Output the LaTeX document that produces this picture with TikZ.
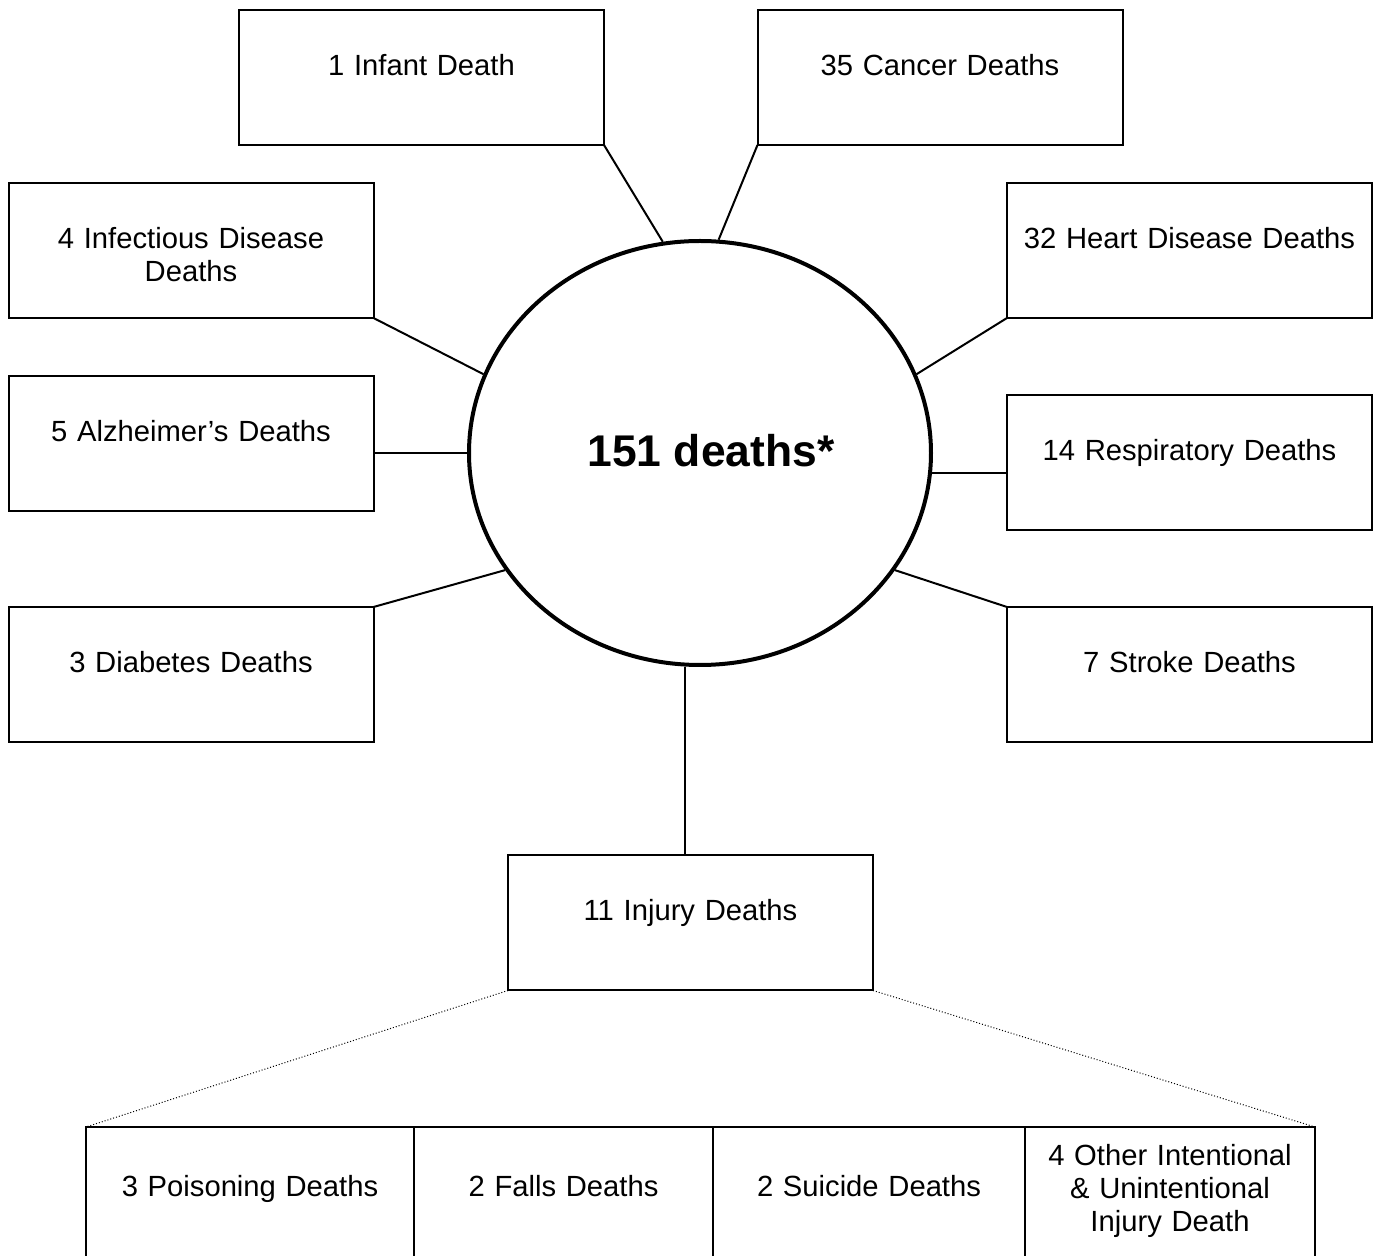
\documentclass[tikz,border=0pt]{standalone}
\usepackage{fontspec}
\setmainfont{Liberation Sans}
\usetikzlibrary{shapes.geometric,positioning}
\begin{document}
\begin{tikzpicture}[x=0.5pt,y=-0.5pt,
  cause/.style={draw, line width=1pt, outer sep=0pt, minimum width=182.5pt, text width=172pt,
    inner xsep=0pt, inner ysep=22.25pt, align=center, text height=10.5pt, text depth=12.5pt,
    font=\fontsize{14.6pt}{16.5pt}\selectfont},
  subcause/.style={cause, text width=140pt, inner ysep=24.25pt, text depth=80pt, anchor=north west},
  link/.style={line width=1pt},
  split/.style={densely dotted, line width=0.5pt}]
\useasboundingbox (0,0) rectangle (1378,1256);
\clip (0,0) rectangle (1378,1256);

% --- TOTAL ---
  \node[draw, ellipse, line width=2pt, minimum width=231pt, minimum height=212pt, inner sep=0pt] (total) at (700,453) {};
  \node[font=\fontsize{22.2pt}{26pt}\selectfont\bfseries] (totaltext) at (711,451) {151 deaths*};

% --- CAUSES ---
  \node[cause] (infant) at (421.5,77.5) {1 Infant Death};
  \node[cause] (cancer) at (940,77.5) {35 Cancer Deaths};
  \node[cause] (infect) at (191,250.5) {4 Infectious Disease\\Deaths};
  \node[cause] (heart) at (1189.5,250.5) {32 Heart Disease Deaths};
  \node[cause] (alzh) at (191,443.5) {5 Alzheimer’s Deaths};
  \node[cause] (resp) at (1189.5,462.5) {14 Respiratory Deaths};
  \node[cause] (diab) at (191,674.5) {3 Diabetes Deaths};
  \node[cause] (stroke) at (1189.5,674.5) {7 Stroke Deaths};
  \node[cause] (injury) at (690.5,923) {11 Injury Deaths};

  % links
\foreach \src/\corner/\ang in {infant/south east/100, cancer/south west/85, infect/south east/160,
    heart/south west/20, diab/north east/211, stroke/north west/329} {
    \draw[link] (\src.\corner) -- (total.\ang);
  }
  \draw[link] (total.west) -- (total.west -| alzh.east);
  \draw[link] (total.355) -- (total.355 -| resp.west);
  \draw[link] (total.266.5) -- (total.266.5 |- injury.north);

% --- INJURY BREAKDOWN ---
  \node[subcause, minimum width=164pt] (poison) at (86,1127) {3 Poisoning Deaths};
  \node[subcause, minimum width=149.5pt] (falls) at (414,1127) {2 Falls Deaths};
  \node[subcause, minimum width=156pt] (suicide) at (713,1127) {2 Suicide Deaths};
  \node[subcause, minimum width=145pt, inner ysep=8.75pt, text depth=111pt] (other) at (1025,1127)
    {4 Other Intentional\\\& Unintentional\\Injury Death};

  % dotted split
  \draw[split] (injury.south west) -- (poison.north west);
  \draw[split] (injury.south east) -- (other.north east);
\end{tikzpicture}
\end{document}
